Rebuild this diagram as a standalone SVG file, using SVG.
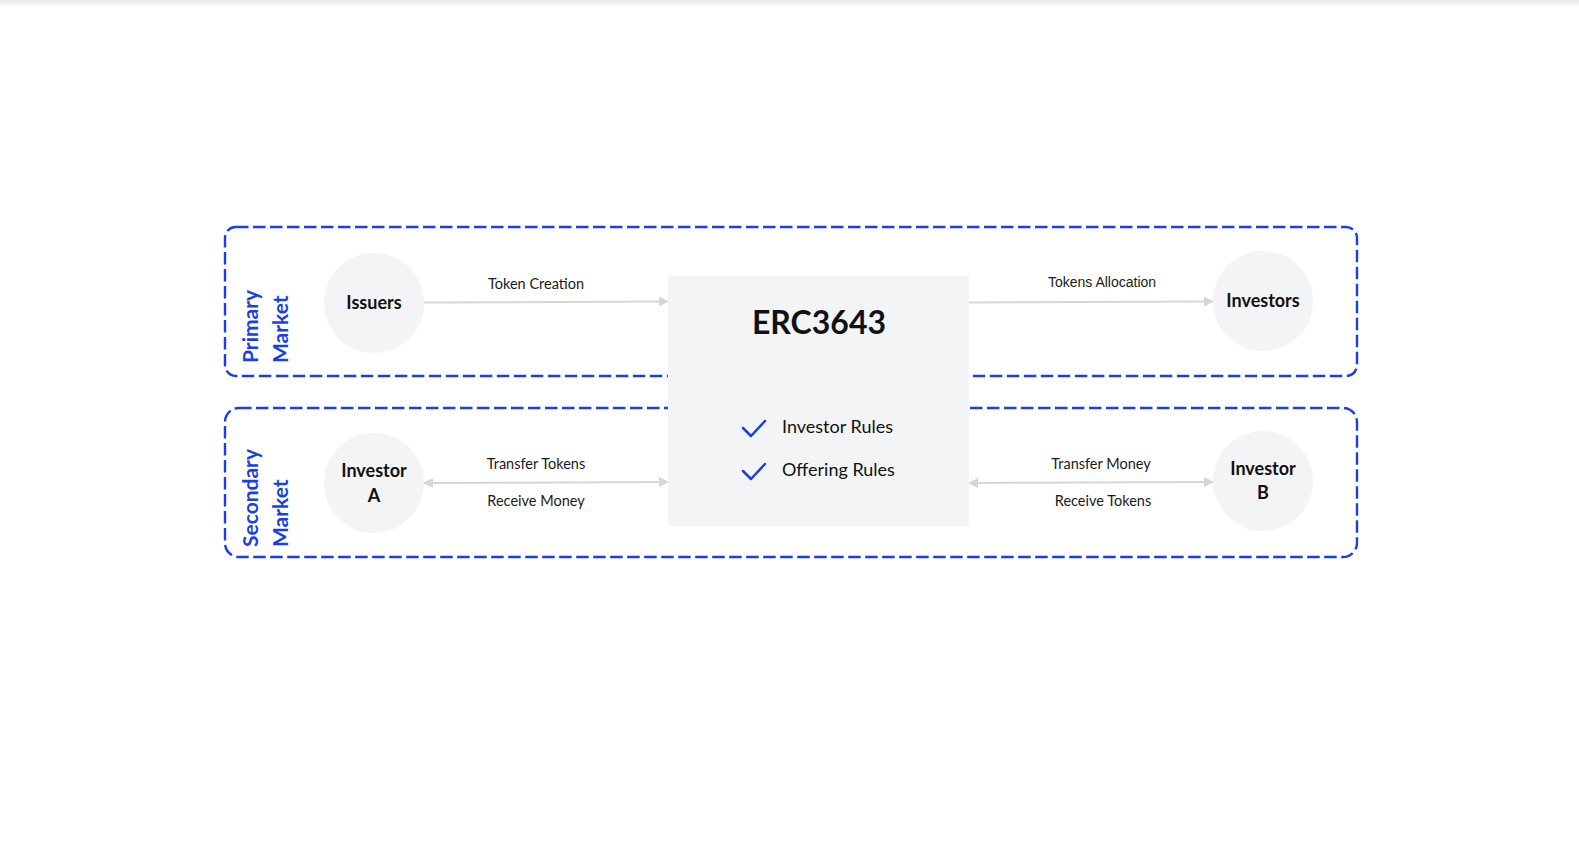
<svg xmlns="http://www.w3.org/2000/svg" width="1579" height="843" viewBox="0 0 1579 843">
<defs>
<linearGradient id="topShade" x1="0" y1="0" x2="0" y2="1">
<stop offset="0" stop-color="#e6e6e6"/>
<stop offset="1" stop-color="#ffffff"/>
</linearGradient>
<marker id="arr" viewBox="0 0 10 10" refX="9" refY="5" markerWidth="5" markerHeight="5" orient="auto-start-reverse" markerUnits="strokeWidth">
<path d="M0,0 L10,5 L0,10 z" fill="#d6d6d6"/>
</marker>
<style>
.zone{fill:none;stroke:#1b3fe4;stroke-width:2.4;stroke-dasharray:12.5 4.5}
.zlabel{font-family:Lato,"Noto Sans",sans-serif;font-size:21px;font-weight:700;fill:#1b3fe4}
.circ{fill:#f3f4f6}
.ntext{font-family:Lato,"Noto Sans",sans-serif;font-size:18px;font-weight:700;fill:#111;text-anchor:middle}
.conn{stroke:#d6d6d6;stroke-width:2;fill:none}
.clabel{font-family:Lato,"Noto Sans",sans-serif;font-size:14.5px;fill:#1a1a1a;text-anchor:middle}
.rule{font-family:Lato,"Noto Sans",sans-serif;font-size:18px;fill:#111}
.check{fill:none;stroke:#1b3fe4;stroke-width:2.5;stroke-linecap:round;stroke-linejoin:round}
</style>
</defs>
<rect x="0" y="0" width="1579" height="843" fill="#ffffff"/>
<rect x="0" y="0" width="1579" height="7" fill="url(#topShade)"/>

<g id="primary-market">
<rect class="zone" x="225" y="227" width="1132" height="149" rx="11"/>
<text class="zlabel" transform="translate(258,363) rotate(-90)">Primary</text>
<text class="zlabel" transform="translate(288,363) rotate(-90)">Market</text>
</g>
<g id="secondary-market">
<rect class="zone" x="225" y="408" width="1132" height="149" rx="14"/>
<text class="zlabel" transform="translate(258,547) rotate(-90)">Secondary</text>
<text class="zlabel" transform="translate(288,547) rotate(-90)">Market</text>
</g>

<g id="connectors">
<line class="conn" x1="424" y1="302.5" x2="668" y2="301.5" marker-end="url(#arr)"/>
<text class="clabel" x="536" y="289">Token Creation</text>
<line class="conn" x1="969" y1="302.5" x2="1213" y2="301.5" marker-end="url(#arr)"/>
<text class="clabel" x="1102" y="287" style="font-family:'Liberation Sans',Arial,sans-serif;font-size:14px">Tokens Allocation</text>
<line class="conn" x1="424" y1="483" x2="668" y2="482" marker-start="url(#arr)" marker-end="url(#arr)"/>
<text class="clabel" x="536" y="469">Transfer Tokens</text>
<text class="clabel" x="536" y="506">Receive Money</text>
<line class="conn" x1="969" y1="483" x2="1213" y2="482" marker-start="url(#arr)" marker-end="url(#arr)"/>
<text class="clabel" x="1101" y="469">Transfer Money</text>
<text class="clabel" x="1103" y="506">Receive Tokens</text>
</g>

<g id="erc3643">
<rect x="668" y="276" width="301" height="250" fill="#f3f4f6"/>
<text x="819" y="334" style="font-family:Lato,'Noto Sans',sans-serif;font-size:32px;font-weight:700;fill:#111;text-anchor:middle">ERC3643</text>
<polyline class="check" points="743,428 751,436 765,421"/>
<text class="rule" x="782" y="433">Investor Rules</text>
<polyline class="check" points="743,471 751,479 765,464"/>
<text class="rule" x="782" y="476">Offering Rules</text>
</g>

<g id="issuers">
<circle class="circ" cx="374" cy="303" r="50"/>
<text class="ntext" x="374" y="309">Issuers</text>
</g>
<g id="investors">
<circle class="circ" cx="1263" cy="301" r="50"/>
<text class="ntext" x="1263" y="307">Investors</text>
</g>
<g id="investor-a">
<circle class="circ" cx="374" cy="483" r="50"/>
<text class="ntext" x="374" y="477">Investor</text>
<text class="ntext" x="374" y="502">A</text>
</g>
<g id="investor-b">
<circle class="circ" cx="1263" cy="481" r="50"/>
<text class="ntext" x="1263" y="475">Investor</text>
<text class="ntext" x="1263" y="499">B</text>
</g>
</svg>
